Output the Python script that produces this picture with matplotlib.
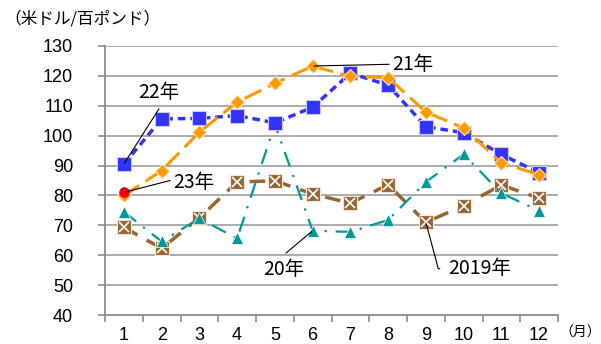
import matplotlib
matplotlib.use("Agg")
import matplotlib.pyplot as plt
from matplotlib.ticker import FixedLocator

plt.rcParams['font.family'] = ['Noto Sans CJK JP', 'DejaVu Sans']

# Monthly prices (USD per 100 lb)
months = [1, 2, 3, 4, 5, 6, 7, 8, 9, 10, 11, 12]
month_labels = [str(m) for m in months]
y2019 = [69.3, 62.3, 72.5, 84.5, 84.9, 80.5, 77.4, 83.6, 71.0, 76.6, 83.5, 79.1]
y2020 = [74.5, 64.6, 72.3, 65.6, 103.8, 68.2, 67.8, 71.8, 84.5, 93.8, 80.7, 74.9]
y2021 = [80.0, 88.3, 101.2, 111.2, 117.5, 123.3, 119.8, 119.4, 107.9, 102.6, 90.9, 86.9]
y2022 = [90.5, 105.6, 105.8, 106.7, 104.3, 109.5, 120.9, 116.9, 103.0, 101.0, 93.7, 87.6]
y2023 = [81.0]
yticks = [40, 50, 60, 70, 80, 90, 100, 110, 120, 130]

c2019 = '#996633'
c2020 = '#009999'
c2021 = '#FF9900'
c2022 = '#3333FF'
c2023 = '#FF0000'
grid_c = '#A6A6A6'

fig = plt.figure(figsize=(6.01, 3.44), dpi=100)
ax = fig.add_axes([105/601, 1 - 315/344, (558-105)/601, (315-46)/344])

# grid
for t in yticks[1:]:
    ax.axhline(t, color=grid_c, lw=1.3, zorder=0)

# 2019: brown squares with a white cross
ax.plot(months, y2019, color=c2019, lw=2.5, ls=(0, (4.5, 3)), marker='s',
        ms=10, mfc=c2019, mec='#F2E6D9', mew=0.8, zorder=2)
ax.plot(months, y2019, ls='none', marker='x', ms=7, mec='white', mew=1.2, zorder=2.1)

# 2020: teal triangles, dash-dot
ax.plot(months, y2020, color=c2020, lw=1.6, ls=(0, (7, 4, 1, 4)), marker='^',
        ms=8, mfc=c2020, mec='white', mew=0.5, zorder=3)

# 2022: blue squares, short dashes
ax.plot(months, y2022, color=c2022, lw=2.5, ls=(0, (2.2, 1.4)), marker='s',
        ms=9.5, mfc=c2022, mec='#C8C8FF', mew=0.8, zorder=4)

# 2021: orange diamonds, long dashes
ax.plot(months, y2021, color=c2021, lw=2.2, ls=(0, (6, 2.5)), marker='D',
        ms=7.5, mfc=c2021, mec='#FFE0B0', mew=0.8, zorder=5)

# 2023: red dot
ax.plot(months[:len(y2023)], y2023, ls='none', marker='o', ms=7,
        mfc=c2023, mec='#C00000', mew=0.5, zorder=6)

ax.set_xlim(0.5, 12.5)
ax.set_ylim(40, 130)
ax.set_yticks(yticks)
ax.set_yticklabels([str(t) for t in yticks], fontsize=13, family='Liberation Sans')
ax.set_xticks(months)
ax.set_xticklabels(month_labels, fontsize=13, family='Liberation Sans')
ax.xaxis.set_minor_locator(FixedLocator([m + 0.5 for m in [0] + months]))
ax.tick_params(axis='x', which='major', length=0, pad=9)
ax.tick_params(axis='x', which='minor', length=5, color='#8C8C8C', width=1.2)
ax.tick_params(axis='y', length=5, color='#8C8C8C', width=1.2, pad=18)
for s in ['top', 'right']:
    ax.spines[s].set_visible(False)
for s in ['left', 'bottom']:
    ax.spines[s].set_color('#8C8C8C')
    ax.spines[s].set_linewidth(1.3)

lab_kw = dict(fontsize=14, color='black', zorder=10)
line_kw = dict(arrowstyle='-', color='black', lw=0.8, shrinkA=0, shrinkB=1)

ax.annotate('22年', xy=(1, y2022[0]), xytext=(1.93, 114.6), ha='center', va='center',
            arrowprops=dict(relpos=(0.5, -0.3), **line_kw), **lab_kw)
ax.annotate('21年', xy=(6, y2021[5]), xytext=(8.1, 123.9), ha='left', va='center',
            arrowprops=dict(relpos=(0, 0.5), **line_kw), **lab_kw)
ax.annotate('23年', xy=(1, y2023[0]), xytext=(2.3, 84.2), ha='left', va='center',
            arrowprops=dict(relpos=(0, 0.65), **line_kw), **lab_kw)
ax.annotate('20年', xy=(6, y2020[5]), xytext=(5.24, 55.1), ha='center', va='center',
            arrowprops=dict(relpos=(0.55, 1.3), **line_kw), **lab_kw)
ax.annotate('2019年', xy=(9, y2019[8]), xytext=(9.59, 55.5), ha='left', va='center',
            arrowprops=dict(relpos=(0, 0.5), connectionstyle='angle,angleA=0,angleB=-75,rad=0',
                            arrowstyle='-', color='black', lw=0.8, shrinkA=4, shrinkB=1),
            **lab_kw)

fig.text(4/601, 1 - 19/344, '（米ドル/百ポンド）', fontsize=12, ha='left', va='center')
fig.text(559/601, 1 - 333/344, '（月）', fontsize=10, ha='left', va='center')

fig.savefig('out.png', dpi=100)
